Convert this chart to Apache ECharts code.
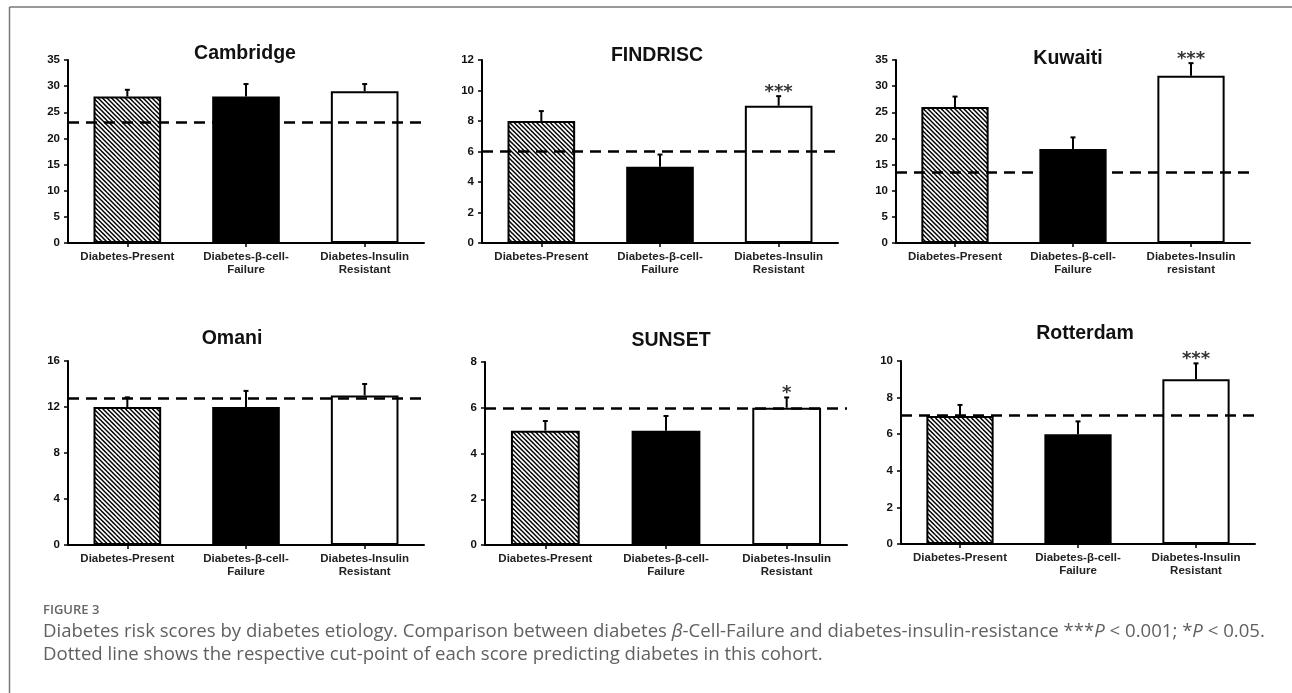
<!DOCTYPE html>
<html>
<head>
<meta charset="utf-8">
<script src="https://cdn.jsdelivr.net/npm/echarts@6/dist/echarts.min.js"></script>
<style>
html,body{margin:0;padding:0;background:#fff;}
#chart{width:1292px;height:693px;}
</style>
</head>
<body>
<div id="chart"></div>
<script>
// ---------- DATA ----------
const categories = ['Diabetes-Present', 'Diabetes-β-cell-\nFailure', 'Diabetes-Insulin\nResistant'];
const categoriesKuwaiti = ['Diabetes-Present', 'Diabetes-β-cell-\nFailure', 'Diabetes-Insulin\nresistant'];
const panelTitles = ['Cambridge', 'FINDRISC', 'Kuwaiti', 'Omani', 'SUNSET', 'Rotterdam'];

const cambridgeValues = [28, 28, 29];
const cambridgeErrors = [1.3, 2.4, 1.4];
const cambridgeCut = 23;
const cambridgeSig = ['', '', ''];

const findriscValues = [8, 5, 9];
const findriscErrors = [0.65, 0.8, 0.63];
const findriscCut = 6;
const findriscSig = ['', '', '***'];

const kuwaitiValues = [26, 18, 32];
const kuwaitiErrors = [2.0, 2.2, 2.4];
const kuwaitiCut = 13.5;
const kuwaitiSig = ['', '', '***'];

const omaniValues = [12, 12, 13];
const omaniErrors = [0.84, 1.4, 1.0];
const omaniCut = 12.75;
const omaniSig = ['', '', ''];

const sunsetValues = [5, 5, 6];
const sunsetErrors = [0.42, 0.64, 0.45];
const sunsetCut = 6;
const sunsetSig = ['', '', '*'];

const rotterdamValues = [7, 6, 9];
const rotterdamErrors = [0.6, 0.7, 0.87];
const rotterdamCut = 7.05;
const rotterdamSig = ['', '', '***'];

const yMax = [35, 12, 35, 16, 8, 10];
const yInterval = [5, 2, 5, 4, 2, 2];

const figureLabel = 'FIGURE 3';
const captionLine1 = 'Diabetes risk scores by diabetes etiology. Comparison between diabetes {i|β}-Cell-Failure and diabetes-insulin-resistance ***{i|P} < 0.001; *{i|P} < 0.05.';
const captionLine1Plain = 'Diabetes risk scores by diabetes etiology. Comparison between diabetes β-Cell-Failure and diabetes-insulin-resistance ***P < 0.001; *P < 0.05.';
const captionLine2 = 'Dotted line shows the respective cut-point of each score predicting diabetes in this cohort.';

// ---------- LAYOUT ----------
const panels = [
  {cats: categories, vals: cambridgeValues, errs: cambridgeErrors, cut: cambridgeCut, sig: cambridgeSig,
   grid: {left: 68, top: 60, width: 356, height: 183}, title: {x: 240, y: 39}},
  {cats: categories, vals: findriscValues, errs: findriscErrors, cut: findriscCut, sig: findriscSig,
   grid: {left: 482, top: 60, width: 356, height: 183}, title: {x: 652, y: 41}},
  {cats: categoriesKuwaiti, vals: kuwaitiValues, errs: kuwaitiErrors, cut: kuwaitiCut, sig: kuwaitiSig,
   grid: {left: 896, top: 60, width: 354, height: 183}, title: {x: 1063, y: 44}},
  {cats: categories, vals: omaniValues, errs: omaniErrors, cut: omaniCut, sig: omaniSig,
   grid: {left: 68, top: 361, width: 356, height: 184}, title: {x: 227, y: 324}},
  {cats: categories, vals: sunsetValues, errs: sunsetErrors, cut: sunsetCut, sig: sunsetSig,
   grid: {left: 485, top: 362, width: 362, height: 183}, title: {x: 666, y: 326}},
  {cats: categories, vals: rotterdamValues, errs: rotterdamErrors, cut: rotterdamCut, sig: rotterdamSig,
   grid: {left: 901, top: 361, width: 354, height: 183}, title: {x: 1080, y: 319}}
];

// hatch pattern tile ("\" direction)
function makeHatch() {
  const s = 9, c = document.createElement('canvas');
  c.width = s; c.height = s;
  const g = c.getContext('2d');
  g.fillStyle = '#fff'; g.fillRect(0, 0, s, s);
  g.strokeStyle = '#000'; g.lineWidth = 1.5;
  [-9, -4.5, 0, 4.5, 9].forEach(k => {
    g.beginPath(); g.moveTo(k - 1, -1); g.lineTo(k + s + 1, s + 1); g.stroke();
  });
  return c;
}
const hatch = makeHatch();
const barFills = [{image: hatch, repeat: 'repeat'}, '#000', '#fff'];

const FONT = '"Liberation Sans", Arial, sans-serif';

const option = {
  backgroundColor: '#fff',
  animation: false,
  title: [], grid: [], xAxis: [], yAxis: [], series: [],
  graphic: []
};

panels.forEach((p, i) => {
  option.title.push({
    text: panelTitles[i], left: p.title.x, top: p.title.y, textAlign: 'center',
    textStyle: {fontFamily: FONT, fontWeight: 'bold', fontSize: 19.5, color: '#111'}
  });
  option.grid.push(Object.assign({containLabel: false}, p.grid));
  option.xAxis.push({
    type: 'category', gridIndex: i, data: p.cats,
    axisLine: {lineStyle: {color: '#000', width: 2}},
    axisTick: {show: true, alignWithLabel: true, length: 4, lineStyle: {color: '#000', width: 1.5}},
    axisLabel: {fontFamily: FONT, fontWeight: 'bold', fontSize: 11.5, color: '#222', margin: 7, lineHeight: 13.5, interval: 0},
    splitLine: {show: false}
  });
  option.yAxis.push({
    type: 'value', gridIndex: i, min: 0, max: yMax[i], interval: yInterval[i],
    axisLine: {show: true, lineStyle: {color: '#000', width: 2}},
    axisTick: {show: true, length: 4, lineStyle: {color: '#000', width: 1.5}},
    axisLabel: {fontFamily: FONT, fontWeight: 'bold', fontSize: 11.5, color: '#111', margin: 8},
    splitLine: {show: false}
  });
  option.series.push({
    type: 'bar', xAxisIndex: i, yAxisIndex: i, barWidth: '57%',
    data: p.vals.map((v, j) => ({value: v, itemStyle: {color: barFills[j], borderColor: '#000', borderWidth: 2}})),
    z: 2,
    markLine: {
      silent: true, symbol: 'none', label: {show: false},
      lineStyle: {color: '#000', type: [11, 7], width: 2.5},
      data: [{yAxis: p.cut}], z: 5
    }
  });
  option.series.push({
    type: 'custom', xAxisIndex: i, yAxisIndex: i, z: 4,
    data: p.vals.map((v, j) => [j, v, p.errs[j]]),
    encode: {x: 0, y: 1},
    renderItem: function (params, api) {
      const x = api.value(0), v = api.value(1), e = api.value(2);
      const sig = p.sig[params.dataIndex];
      const p0 = api.coord([x, v]);
      const p1 = api.coord([x, v + e]);
      const children = [
        {type: 'line', shape: {x1: p0[0], y1: p0[1], x2: p1[0], y2: p1[1]}, style: {stroke: '#000', lineWidth: 2}},
        {type: 'line', shape: {x1: p1[0] - 2.5, y1: p1[1], x2: p1[0] + 2.5, y2: p1[1]}, style: {stroke: '#000', lineWidth: 2}}
      ];
      if (sig) {
        children.push({type: 'text', x: p1[0], y: p1[1] + 5,
          style: {text: sig, fill: '#333', font: 'bold 18px "DejaVu Sans"', align: 'center', verticalAlign: 'bottom'}});
      }
      return {type: 'group', children: children};
    }
  });
});

// caption font fitting
const mctx = document.createElement('canvas').getContext('2d');
mctx.font = '100px "Open Sans"';
const capSize = 100 * 1225 / mctx.measureText(captionLine1Plain).width;

option.graphic = [
  {type: 'line', shape: {x1: 9.5, y1: 7, x2: 9.5, y2: 693}, style: {stroke: '#777', lineWidth: 1.5}},
  {type: 'line', shape: {x1: 9.5, y1: 7, x2: 1292, y2: 7}, style: {stroke: '#777', lineWidth: 1.5}},
  {type: 'text', left: 43, top: 604, style: {text: figureLabel, fill: '#666', font: '600 13px "Open Sans"'}},
  {type: 'text', left: 43, top: 622, style: {text: captionLine1, fill: '#606060', fontFamily: '"Open Sans"', fontSize: capSize,
     rich: {i: {fontStyle: 'italic', fontFamily: '"Open Sans"', fontSize: capSize, fill: '#606060'}}}},
  {type: 'text', left: 43, top: 645, style: {text: captionLine2, fill: '#606060', fontFamily: '"Open Sans"', fontSize: capSize}}
];

const chart = echarts.init(document.getElementById('chart'), null, {renderer: 'canvas'});
chart.setOption(option);
</script>
</body>
</html>
